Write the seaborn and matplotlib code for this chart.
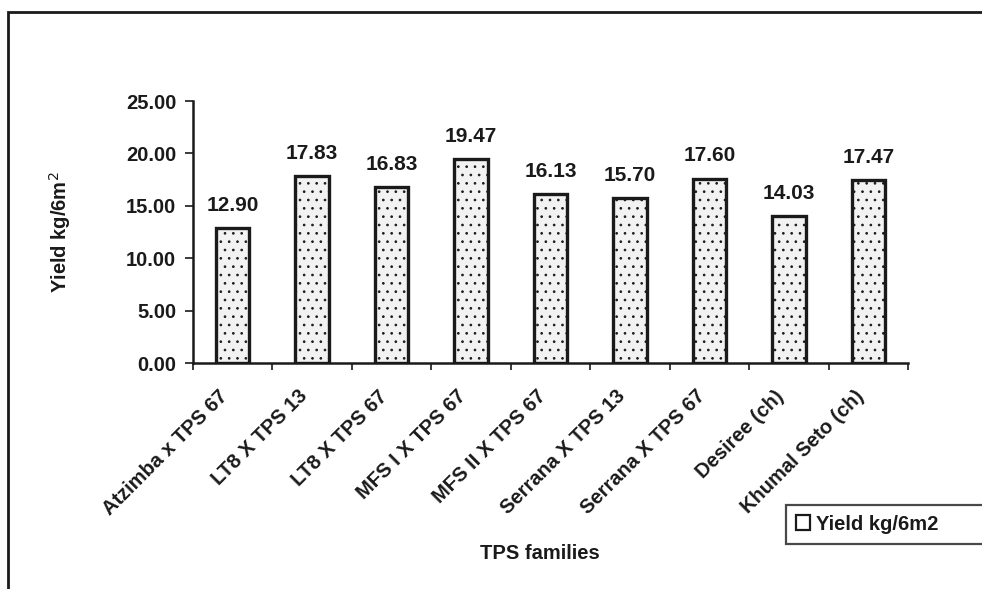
import matplotlib
matplotlib.use("Agg")
import matplotlib.pyplot as plt
from matplotlib.patches import Rectangle
import seaborn as sns
import pandas as pd

families = ["Atzimba x TPS 67", "LT8 X TPS 13", "LT8 X TPS 67", "MFS I X TPS 67",
            "MFS II X TPS 67", "Serrana X TPS 13", "Serrana X TPS 67",
            "Desiree (ch)", "Khumal Seto (ch)"]
yields = [12.90, 17.83, 16.83, 19.47, 16.13, 15.70, 17.60, 14.03, 17.47]
y_ticks = [0, 5, 10, 15, 20, 25]

df = pd.DataFrame({"family": families, "yield": yields})

sns.set_style("white")
plt.rcParams["font.family"] = ["Liberation Sans", "DejaVu Sans"]
plt.rcParams["hatch.color"] = "#bdbdbd"
plt.rcParams["hatch.linewidth"] = 0.7

INK = "#1a1a1a"

fig = plt.figure(figsize=(9.82, 5.89), dpi=100)
ax = fig.add_axes([0.1965, 0.3837, 0.7282, 0.4448])

sns.barplot(data=df, x="family", y="yield", ax=ax, width=0.42,
            color="#f2f2f2", edgecolor=INK, linewidth=2.4,
            label="Yield kg/6m2")
for bar in ax.patches:
    bar.set_hatch("..")

ax.set_xlim(-0.5, len(families) - 0.5)
ax.set_ylim(0, 25)
ax.set_yticks(y_ticks)
ax.set_yticklabels([f"{v:.2f}" for v in y_ticks], fontsize=14.5,
                   fontweight="bold", color=INK)

# slanted category labels end just left of each bar's centre;
# the visible ticks sit at the boundaries between bars
label_offset = 0.18
ax.set_xticks([i - label_offset for i in range(len(families))])
ax.set_xticklabels(families, rotation=45, ha="right", rotation_mode="anchor",
                   fontsize=14.5, fontweight="bold", color=INK)
ax.set_xticks([i - 0.5 for i in range(len(families) + 1)], minor=True)
ax.tick_params(axis="x", which="major", length=0, pad=17)
ax.tick_params(axis="x", which="minor", length=5, width=1.2, direction="out",
               bottom=True, color=INK)
ax.tick_params(axis="y", length=6, width=1.2, direction="out", left=True,
               color=INK, pad=6)

for s in ["top", "right"]:
    ax.spines[s].set_visible(False)
for s in ["left", "bottom"]:
    ax.spines[s].set_color(INK)
    ax.spines[s].set_linewidth(1.8)

for i, v in enumerate(yields):
    ax.text(i, v + 1.25, f"{v:.2f}", ha="center", va="bottom", fontsize=15,
            fontweight="bold", color=INK)

ax.set_xlabel("")
ax.set_ylabel("Yield kg/6m$^2$", fontsize=14.5, fontweight="bold", color=INK,
              labelpad=0)
ax.yaxis.set_label_coords(-0.168, 0.5)
fig.text(0.55, 0.061, "TPS families", ha="center", va="center",
         fontsize=14.5, fontweight="bold", color=INK)

leg = ax.legend(loc="lower left", bbox_to_anchor=(0.800, 0.077, 0.215, 0.069),
                bbox_transform=fig.transFigure, frameon=True, fancybox=False,
                fontsize=14.5, handlelength=0.7, handleheight=0.7,
                handletextpad=0.3, borderpad=0.5, borderaxespad=0,
                mode="expand")
leg.get_frame().set_edgecolor(INK)
leg.get_frame().set_linewidth(1.6)
for t in leg.get_texts():
    t.set_fontweight("bold")
    t.set_color(INK)
for h in leg.legend_handles:
    h.set_hatch(None)
    h.set_facecolor("white")
    h.set_linewidth(1.6)

# outer chart-area frame
fig.patches.append(Rectangle((0.008, -0.05), 1.2, 1.029,
                             transform=fig.transFigure, fill=False,
                             edgecolor=INK, linewidth=2.0))

fig.savefig("out.png", dpi=100)
